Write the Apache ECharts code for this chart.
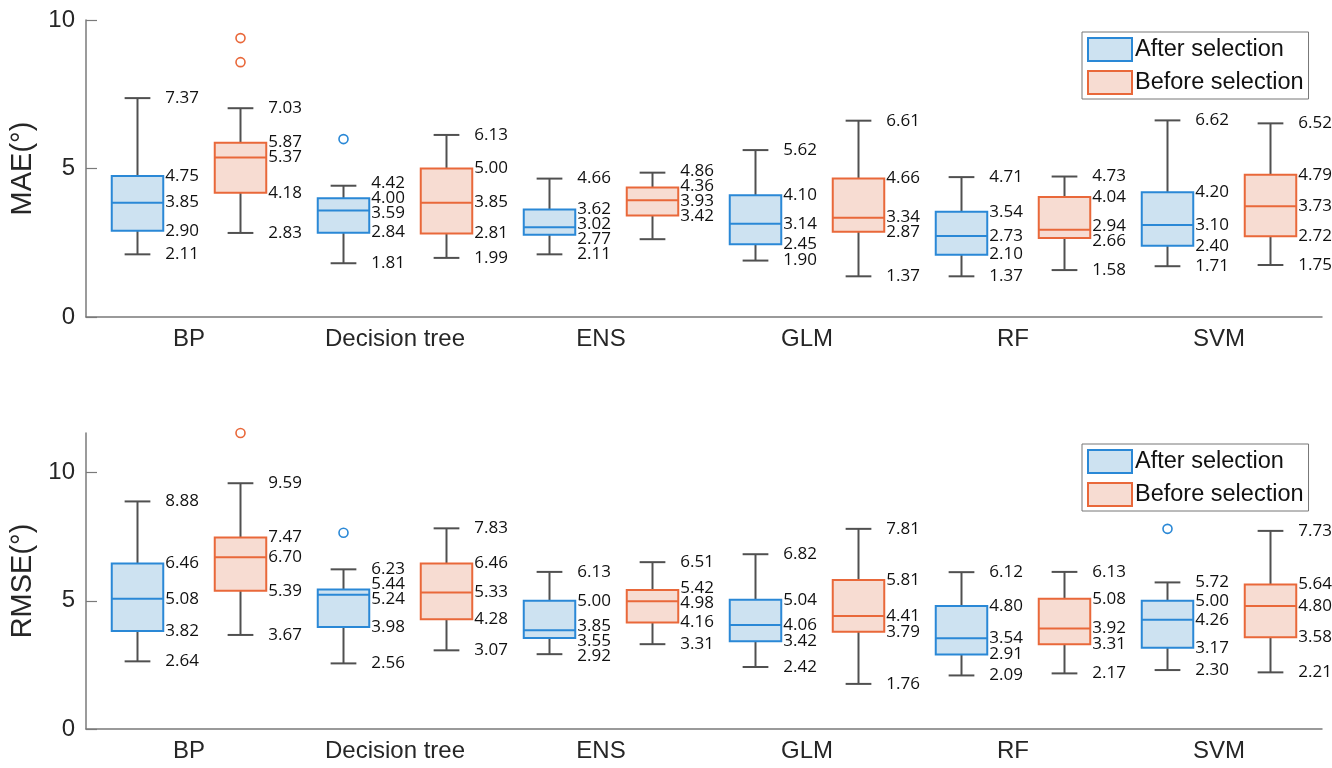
<!DOCTYPE html>
<html>
<head>
<meta charset="utf-8">
<script src="https://cdn.jsdelivr.net/npm/echarts@6/dist/echarts.min.js"></script>
<style>
html, body { margin: 0; padding: 0; background: #fff; }
#main { width: 1332px; height: 768px; }
</style>
</head>
<body>
<div id="main"></div>
<script>
var categories = ['BP', 'Decision tree', 'ENS', 'GLM', 'RF', 'SVM'];

// box stats per model: [lower whisker, Q1, median, Q3, upper whisker]
var maeAfter = [
    [2.11, 2.90, 3.85, 4.75, 7.37],
    [1.81, 2.84, 3.59, 4.00, 4.42],
    [2.11, 2.77, 3.02, 3.62, 4.66],
    [1.90, 2.45, 3.14, 4.10, 5.62],
    [1.37, 2.10, 2.73, 3.54, 4.71],
    [1.71, 2.40, 3.10, 4.20, 6.62]
];
var maeBefore = [
    [2.83, 4.18, 5.37, 5.87, 7.03],
    [1.99, 2.81, 3.85, 5.00, 6.13],
    [2.62, 3.42, 3.93, 4.36, 4.86],
    [1.37, 2.87, 3.34, 4.66, 6.61],
    [1.58, 2.66, 2.94, 4.04, 4.73],
    [1.75, 2.72, 3.73, 4.79, 6.52]
];
var rmseAfter = [
    [2.64, 3.82, 5.08, 6.46, 8.88],
    [2.56, 3.98, 5.24, 5.44, 6.23],
    [2.92, 3.55, 3.85, 5.00, 6.13],
    [2.42, 3.42, 4.06, 5.04, 6.82],
    [2.09, 2.91, 3.54, 4.80, 6.12],
    [2.30, 3.17, 4.26, 5.00, 5.72]
];
var rmseBefore = [
    [3.67, 5.39, 6.70, 7.47, 9.59],
    [3.07, 4.28, 5.33, 6.46, 7.83],
    [3.31, 4.16, 4.98, 5.42, 6.51],
    [1.76, 3.79, 4.41, 5.81, 7.81],
    [2.17, 3.31, 3.92, 5.08, 6.13],
    [2.21, 3.58, 4.80, 5.64, 7.73]
];
// which of the five values get a text label (ENS before, MAE: lower whisker has none)
var maeBeforeLabelLow = [1, 1, 0, 1, 1, 1];

// outliers: [category index, value]
var maeAfterOut = [[1, 5.99]];
var maeBeforeOut = [[0, 9.39], [0, 8.58]];
var rmseAfterOut = [[1, 7.66], [5, 7.81]];
var rmseBeforeOut = [[0, 11.55]];

var yTicks = [0, 5, 10];
var maeMax = 10;
var rmseMax = 11.55;

var blue = '#2a88d6', blueFill = '#cde2f1';
var orange = '#e9683a', orangeFill = '#f7dcd2';
var whisker = '#505050';
var axisColor = '#7a7a7a';
var textColor = '#262626';

function boxRows(stats, lowFlags) {
    return stats.map(function (s, i) {
        return [i].concat(s).concat([lowFlags ? lowFlags[i] : 1]);
    });
}

function boxRender(side, stroke, fill) {
    return function (params, api) {
        var ci = api.value(0);
        var band = api.size([1, 0])[0];
        var cx = api.coord([ci, 0])[0] + side * band * 0.25;
        var bw = band * 0.25, cw = bw / 2;
        var vals = [], ys = [];
        for (var k = 1; k <= 5; k++) {
            vals.push(api.value(k));
            ys.push(api.coord([ci, api.value(k)])[1]);
        }
        var showLow = api.value(6);
        var children = [
            { type: 'line', shape: { x1: cx, y1: ys[4], x2: cx, y2: ys[3] }, style: { stroke: whisker, lineWidth: 2 } },
            { type: 'line', shape: { x1: cx, y1: ys[1], x2: cx, y2: ys[0] }, style: { stroke: whisker, lineWidth: 2 } },
            { type: 'line', shape: { x1: cx - cw / 2, y1: ys[4], x2: cx + cw / 2, y2: ys[4] }, style: { stroke: whisker, lineWidth: 2 } },
            { type: 'line', shape: { x1: cx - cw / 2, y1: ys[0], x2: cx + cw / 2, y2: ys[0] }, style: { stroke: whisker, lineWidth: 2 } },
            { type: 'rect', shape: { x: cx - bw / 2, y: ys[3], width: bw, height: ys[1] - ys[3] }, style: { fill: fill, stroke: stroke, lineWidth: 2 } },
            { type: 'line', shape: { x1: cx - bw / 2, y1: ys[2], x2: cx + bw / 2, y2: ys[2] }, style: { stroke: stroke, lineWidth: 2 } }
        ];
        // text labels, top to bottom, spread apart if crowded
        var labs = [];
        for (var j = 4; j >= 0; j--) {
            if (j === 0 && !showLow) continue;
            labs.push({ v: vals[j], y: ys[j] });
        }
        var gap = 15;
        for (var it = 0; it < 30; it++) {
            for (var m = 0; m < labs.length - 1; m++) {
                var d = labs[m + 1].y - labs[m].y;
                if (d < gap) {
                    var sh = (gap - d) / 2;
                    labs[m].y -= sh;
                    labs[m + 1].y += sh;
                }
            }
        }
        labs.forEach(function (l) {
            children.push({
                type: 'text',
                style: {
                    x: cx + bw / 2 + 2, y: l.y, text: l.v.toFixed(2),
                    fill: '#111', font: '17px "Open Sans"',
                    textAlign: 'left', textVerticalAlign: 'middle'
                }
            });
        });
        return { type: 'group', children: children };
    };
}

function outlierRender(side, stroke) {
    return function (params, api) {
        var ci = api.value(0);
        var band = api.size([1, 0])[0];
        var p = api.coord([ci, api.value(1)]);
        return {
            type: 'circle',
            shape: { cx: p[0] + side * band * 0.25, cy: p[1], r: 4.5 },
            style: { fill: 'none', stroke: stroke, lineWidth: 1.6 }
        };
    };
}

var grids = [
    { left: 86, right: 10, top: 20, bottom: 451 },
    { left: 86, right: 10, top: 433, bottom: 39 }
];

function xAxis(gi) {
    return {
        type: 'category', gridIndex: gi, data: categories, boundaryGap: true,
        axisLine: { lineStyle: { color: axisColor, width: 1.5 } },
        axisTick: { alignWithLabel: true, inside: true, length: 10, lineStyle: { color: axisColor, width: 1.2 } },
        axisLabel: { fontSize: 24, margin: 10, color: textColor, fontFamily: '"Liberation Sans", Arial' },
        splitLine: { show: false }
    };
}

function yAxis(gi, max, name) {
    return {
        type: 'value', gridIndex: gi, min: 0, max: max, interval: 5,
        name: name, nameLocation: 'middle', nameGap: 37, nameRotate: 90,
        nameTextStyle: { fontSize: 29, color: textColor, fontFamily: '"Liberation Sans", Arial' },
        axisLine: { show: true, lineStyle: { color: axisColor, width: 1.5 } },
        axisTick: { show: true, inside: true, length: 11, customValues: yTicks, lineStyle: { color: axisColor, width: 1.2 } },
        axisLabel: { fontSize: 24, margin: 11, color: textColor, customValues: yTicks, fontFamily: '"Liberation Sans", Arial' },
        splitLine: { show: false }
    };
}

function legend(top) {
    return {
        left: 1082, top: top, orient: 'vertical',
        itemWidth: 44, itemHeight: 23, itemGap: 8, padding: [5, 5, 4, 5],
        borderColor: '#777', borderWidth: 1, backgroundColor: '#fff',
        textStyle: { fontSize: 23.5, color: '#111', fontFamily: '"Liberation Sans", Arial', padding: [0, 0, 0, -2] },
        data: [
            { name: 'After selection', icon: 'rect', itemStyle: { color: blueFill, borderColor: blue, borderWidth: 2 } },
            { name: 'Before selection', icon: 'rect', itemStyle: { color: orangeFill, borderColor: orange, borderWidth: 2 } }
        ]
    };
}

function boxSeries(name, gi, stats, side, stroke, fill, lowFlags) {
    return {
        name: name, type: 'custom', xAxisIndex: gi, yAxisIndex: gi,
        itemStyle: { color: fill, borderColor: stroke, borderWidth: 2 },
        renderItem: boxRender(side, stroke, fill),
        encode: { x: 0, y: [1, 2, 3, 4, 5] },
        data: boxRows(stats, lowFlags), z: 2
    };
}

function outSeries(name, gi, pts, side, stroke) {
    return {
        name: name, type: 'custom', xAxisIndex: gi, yAxisIndex: gi,
        renderItem: outlierRender(side, stroke),
        encode: { x: 0, y: 1 },
        data: pts, z: 3
    };
}

var chart = echarts.init(document.getElementById('main'));
var option = {
    animation: false,
    backgroundColor: '#fff',
    grid: grids,
    xAxis: [xAxis(0), xAxis(1)],
    yAxis: [yAxis(0, maeMax, 'MAE(°)'), yAxis(1, rmseMax, 'RMSE(°)')],
    legend: [legend(32), legend(444)],
    series: [
        boxSeries('After selection', 0, maeAfter, -1, blue, blueFill),
        boxSeries('Before selection', 0, maeBefore, 1, orange, orangeFill, maeBeforeLabelLow),
        outSeries('After selection', 0, maeAfterOut, -1, blue),
        outSeries('Before selection', 0, maeBeforeOut, 1, orange),
        boxSeries('After selection', 1, rmseAfter, -1, blue, blueFill),
        boxSeries('Before selection', 1, rmseBefore, 1, orange, orangeFill),
        outSeries('After selection', 1, rmseAfterOut, -1, blue),
        outSeries('Before selection', 1, rmseBeforeOut, 1, orange)
    ]
};
chart.setOption(option);
</script>
</body>
</html>
